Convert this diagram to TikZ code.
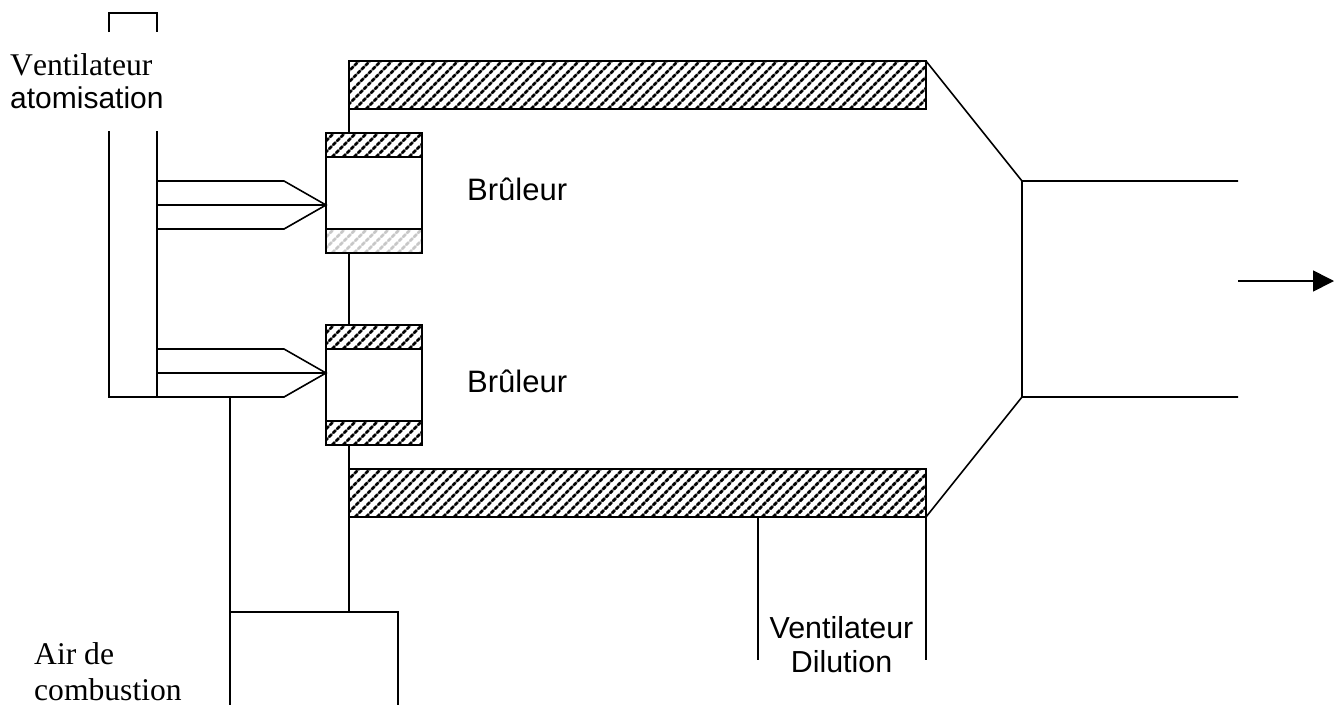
\documentclass[tikz,border=0pt]{standalone}
\usepackage{fontspec}
\setmainfont[Kerning=Off]{Liberation Serif}
\setsansfont{Liberation Sans}
\usetikzlibrary{arrows.meta}
\tikzset{
  ln/.style={line width=1.6pt,black,line cap=butt},
  sanslabel/.style={font=\fontsize{30.4}{34}\selectfont\sffamily,inner sep=0pt,anchor=base west},
  seriflabel/.style={font=\fontsize{31.6}{35}\selectfont\rmfamily,inner sep=0pt,anchor=base west},
  hatchbase/.style={line width=1.5pt},
  hatchline/.style={line width=2.8pt,dash pattern=on 3.8pt off 1.8pt}
}
\newcommand{\hatchbox}[5]{% x1 y1 x2 y2 colour
  \begin{scope}
    \colorlet{hatchfull}{#5}
    \colorlet{hatchsoft}{hatchfull!65!white}
    \clip (#1,#2) rectangle (#3,#4);
    \pgfmathsetmacro{\hstart}{#1-60}
    \pgfmathsetmacro{\hsecond}{#1-60+11}
    \foreach \hx in {\hstart,\hsecond,...,#3}{
      \draw[hatchbase,hatchsoft] (\hx,#4) -- ++(60,-60);
      \draw[hatchline,hatchfull] (\hx,#4) -- ++(60,-60);
    }
  \end{scope}
  \draw[ln] (#1,#2) rectangle (#3,#4);
}
\begin{document}
\begin{tikzpicture}[x=1pt,y=-1pt]
\useasboundingbox (0,0) rectangle (1343,705);
% atomisation fan duct
\draw[ln] (109,32) -- (109,13) -- (157,13) -- (157,32);
\draw[ln] (109,131) -- (109,397) -- (284,397) -- (326,373) -- (284,349) -- (157,349);
\draw[ln] (157,131) -- (157,397);
\draw[ln] (157,181) -- (284,181) -- (326,205) -- (284,229) -- (157,229);
\draw[ln] (157,205) -- (326,205);
\draw[ln] (157,373) -- (326,373);
% wall
\draw[ln] (349,109) -- (349,133);
\draw[ln] (349,253) -- (349,325);
\draw[ln] (349,445) -- (349,612);
% air duct
\draw[ln] (230,397) -- (230,705);
\draw[ln] (230,612) -- (398,612) -- (398,705);
% hatched walls
\hatchbox{349}{61}{926}{109}{black}
\hatchbox{349}{469}{926}{517}{black}
% burners
\draw[ln] (326,157) rectangle (422,229);
\draw[ln] (326,349) rectangle (422,421);
\hatchbox{326}{133}{422}{157}{black}
\hatchbox{326}{229}{422}{253}{black!22}
\hatchbox{326}{325}{422}{349}{black}
\hatchbox{326}{421}{422}{445}{black}
% chamber outlet
\draw[ln] (1238,181) -- (1022,181) -- (926,61);
\draw[ln] (1238,397) -- (1022,397) -- (926,517);
\draw[ln] (1022,181) -- (1022,397);
% dilution duct
\draw[ln] (758,517) -- (758,660);
\draw[ln] (926,517) -- (926,660);
% outlet arrow
\coordinate (arrowstart) at (1238,281);
\coordinate (arrowend) at (1334,281);
\draw[ln,-{Triangle[length=21pt,width=21pt]}] (arrowstart) -- (arrowend);
% labels
\node[seriflabel] (vent) at (10,75) {Ventilateur};
\node[sanslabel,font=\fontsize{30}{34}\selectfont\sffamily] (atom) at (10,108.5) {atomisation};
\node[sanslabel,font=\fontsize{31}{34}\selectfont\sffamily] (b1) at (467,200) {Brûleur};
\node[sanslabel,font=\fontsize{31}{34}\selectfont\sffamily] (b2) at (467,392) {Brûleur};
\node[sanslabel,anchor=base] (vd1) at (841.5,638) {Ventilateur};
\node[sanslabel,anchor=base] (vd2) at (841.5,672) {Dilution};
\node[seriflabel] (air1) at (34,664) {Air de};
\node[seriflabel] (air2) at (34,700) {combustion};
\end{tikzpicture}
\end{document}
